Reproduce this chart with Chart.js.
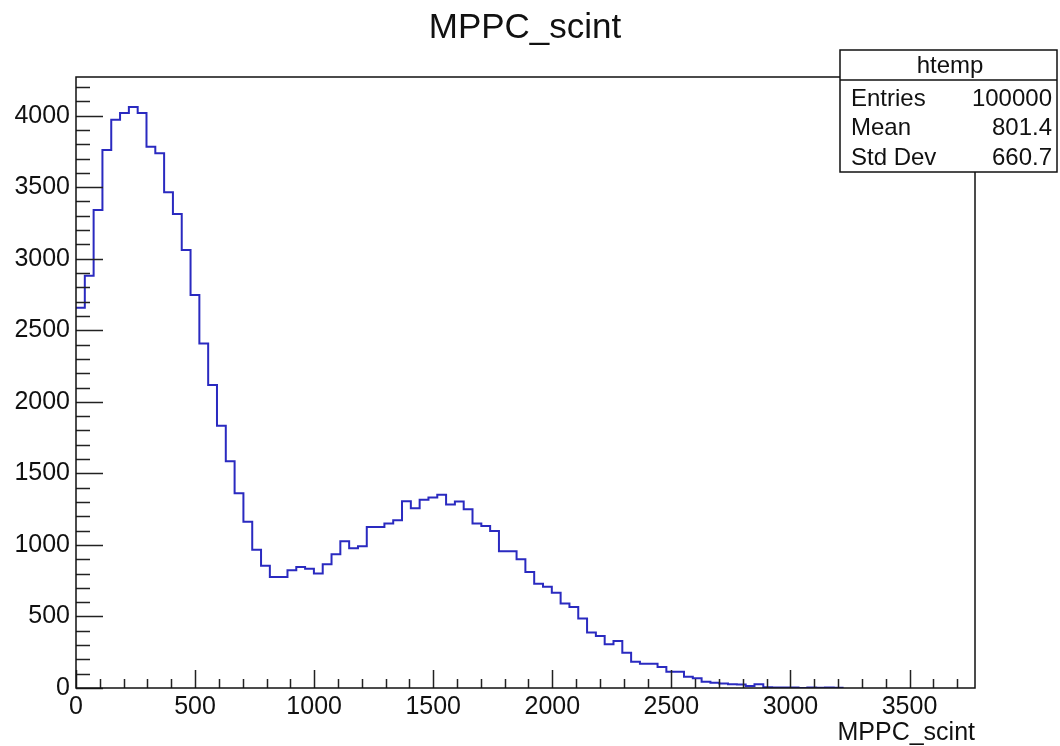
<!DOCTYPE html>
<html>
<head>
<meta charset="utf-8">
<script src="https://cdn.jsdelivr.net/npm/chart.js@4"></script>
<style>
  html, body { margin: 0; padding: 0; background: #fff; }
  #wrap { width: 1060px; height: 746px; }
</style>
</head>
<body>
<div id="wrap"><canvas id="grafico" width="1060" height="746"></canvas></div>
<script>
// histogram MPPC_scint, bin width ~37 ADC counts, starting at 0
let binWidth = 37;
let counts = [
  2657, 2881, 3340, 3760, 3972, 4019, 4061, 4019, 3783, 3737,
  3464, 3312, 3061, 2746, 2408, 2117, 1832, 1585, 1361, 1161,
  967, 855, 776, 776, 823, 846, 834, 800, 865, 935,
  1026, 977, 991, 1126, 1126, 1149, 1173, 1305, 1256, 1315,
  1331, 1350, 1282, 1303, 1250, 1149, 1133, 1098, 956, 956,
  900, 811, 729, 708, 666, 590, 566, 485, 387, 364,
  306, 329, 247, 184, 170, 170, 147, 114, 114, 79,
  68, 44, 36, 32, 26, 25, 14, 26, 5, 4,
  4, 3, 0, 3, 2, 3, 2
];
let xTicks = [0, 500, 1000, 1500, 2000, 2500, 3000, 3500];
let yTicks = [0, 500, 1000, 1500, 2000, 2500, 3000, 3500, 4000];
let xMax = 3775;
let yMax = 4270;
let statNames = ["Entries", "Mean", "Std Dev"];
let statValues = ["100000", "801.4", "660.7"];

let fonte = '"Liberation Sans", Arial, Helvetica, sans-serif';

let pontos = counts.map((c, i) => ({ x: i * binWidth, y: c }));
pontos.push({ x: counts.length * binWidth, y: 0 });

// ROOT style: ticks inside the frame, frame box, title, stats box
let estiloRoot = {
  id: 'estiloRoot',
  afterDraw(chart) {
    let ctx = chart.ctx;
    let a = chart.chartArea;
    let sx = chart.scales.x, sy = chart.scales.y;
    ctx.save();

    ctx.strokeStyle = '#222';
    ctx.lineWidth = 1.5;
    ctx.beginPath();
    for (let v = 0; v <= yMax; v += 100) {
      let y = Math.round(sy.getPixelForValue(v)) + 0.5;
      let len = v % 500 === 0 ? 27 : 14;
      ctx.moveTo(a.left, y);
      ctx.lineTo(a.left + len, y);
    }
    for (let v = 0; v <= xMax; v += 100) {
      let x = Math.round(sx.getPixelForValue(v)) + 0.5;
      let len = v % 500 === 0 ? 18 : 9;
      ctx.moveTo(x, a.bottom);
      ctx.lineTo(x, a.bottom - len);
    }
    ctx.stroke();

    ctx.strokeStyle = '#111';
    ctx.lineWidth = 1.5;
    ctx.strokeRect(a.left, a.top, a.right - a.left, a.bottom - a.top);

    // title
    ctx.fillStyle = '#111';
    ctx.font = '35px ' + fonte;
    ctx.textAlign = 'center';
    ctx.textBaseline = 'middle';
    ctx.fillText('MPPC_scint', 525, 28);

    // axis title
    ctx.font = '25px ' + fonte;
    ctx.textAlign = 'right';
    ctx.fillText('MPPC_scint', a.right, 733);

    // stats box
    let bx = 840, by = 50, bw = 217, bh = 122;
    ctx.fillStyle = '#fff';
    ctx.fillRect(bx, by, bw, bh);
    ctx.strokeStyle = '#111';
    ctx.lineWidth = 1.5;
    ctx.strokeRect(bx, by, bw, bh);
    ctx.beginPath();
    ctx.moveTo(bx, 80);
    ctx.lineTo(bx + bw, 80);
    ctx.stroke();
    ctx.fillStyle = '#111';
    ctx.font = '24px ' + fonte;
    ctx.textAlign = 'center';
    ctx.fillText('htemp', 950, 66);
    statNames.forEach((n, i) => {
      let y = 99 + i * 29.5;
      ctx.textAlign = 'left';
      ctx.fillText(n, 851, y);
      ctx.textAlign = 'right';
      ctx.fillText(statValues[i], 1052, y);
    });
    ctx.restore();
  }
};

let ctx = document.getElementById('grafico').getContext('2d');

let meuGrafico = new Chart(ctx, {
  type: 'line',
  data: {
    datasets: [{
      data: pontos,
      stepped: 'before',
      borderColor: '#2a2ac0',
      borderWidth: 2,
      pointRadius: 0,
      fill: false
    }]
  },
  options: {
    responsive: false,
    animation: false,
    layout: { padding: { left: 0, right: 85, top: 77, bottom: 0 } },
    plugins: { legend: { display: false }, tooltip: { enabled: false } },
    scales: {
      x: {
        type: 'linear',
        min: 0,
        max: xMax,
        afterFit: s => { s.height = 58; },
        afterBuildTicks: s => { s.ticks = xTicks.map(v => ({ value: v })); },
        grid: { display: false },
        border: { display: false },
        ticks: {
          autoSkip: false,
          maxRotation: 0,
          padding: -4,
          color: '#111',
          font: { family: fonte, size: 25 },
          callback: v => String(v)
        }
      },
      y: {
        type: 'linear',
        min: 0,
        max: yMax,
        afterFit: s => { s.width = 76; },
        afterBuildTicks: s => { s.ticks = yTicks.map(v => ({ value: v })); },
        grid: { display: false },
        border: { display: false },
        ticks: {
          padding: -2,
          color: '#111',
          font: { family: fonte, size: 25 },
          callback: v => String(v)
        }
      }
    }
  },
  plugins: [estiloRoot]
});
</script>
</body>
</html>
